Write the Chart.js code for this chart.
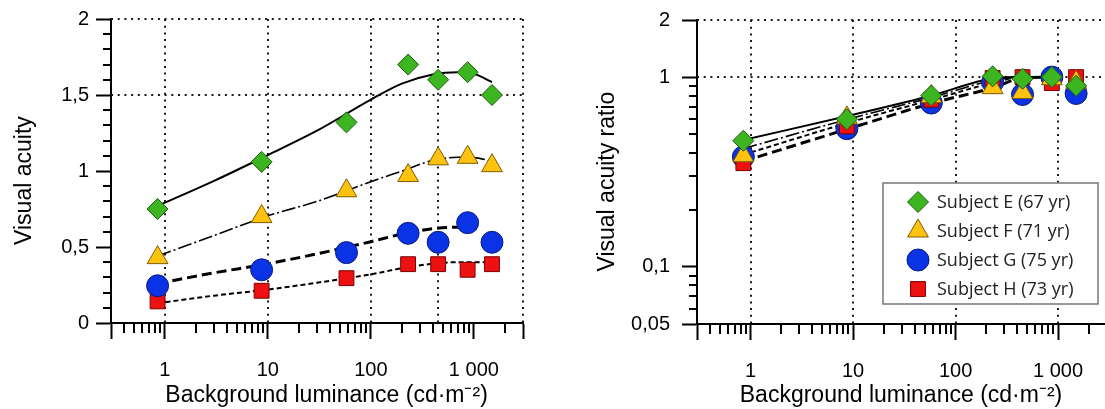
<!DOCTYPE html>
<html>
<head>
<meta charset="utf-8">
<script src="https://cdn.jsdelivr.net/npm/chart.js@4.4.1/dist/chart.umd.min.js"></script>
<style>
    html, body { margin: 0; padding: 0; background: #fff; }
    body { width: 1105px; height: 409px; position: relative; overflow: hidden; }
    .panel { position: absolute; top: 0; height: 409px; }
    #leftBox { left: 0; width: 560px; }
    #rightBox { left: 583px; width: 522px; }
</style>
</head>
<body>
<div class="panel" id="leftBox"><canvas id="acuityChart"></canvas></div>
<div class="panel" id="rightBox"><canvas id="ratioChart"></canvas></div>
<script>
// luminance of the measured points (cd/m2)
const luminance = [0.85, 8.7, 58, 230, 450, 870, 1500];

// visual acuity (left panel)
const acuityE = [0.75, 1.06, 1.32, 1.70, 1.60, 1.65, 1.50];
const acuityF = [0.43, 0.70, 0.87, 0.97, 1.08, 1.09, 1.035];
const acuityG = [0.245, 0.35, 0.463, 0.59, 0.531, 0.66, 0.531];
const acuityH = [0.142, 0.212, 0.295, 0.387, 0.387, 0.35, 0.387];

// fitted curves of the left panel
const fitLum = [0.85, 3, 10, 30, 100, 200, 400, 700, 1000, 1500];
const fitE = [0.77, 0.935, 1.105, 1.265, 1.47, 1.575, 1.635, 1.65, 1.64, 1.585];
const fitF = [0.44, 0.575, 0.705, 0.80, 0.93, 1.0, 1.07, 1.09, 1.088, 1.065];
const fitH = [0.13, 0.18, 0.22, 0.265, 0.32, 0.36, 0.39, 0.40, 0.40, 0.40];
const fitLumG = [0.85, 3, 10, 30, 100, 200, 400, 700, 1200];
const fitG = [0.26, 0.33, 0.39, 0.455, 0.535, 0.585, 0.62, 0.63, 0.62];

// acuity ratio (right panel)
const ratioE = [0.462, 0.60, 0.80, 1.01, 0.98, 1.0, 0.90];
const ratioF = [0.385, 0.61, 0.79, 0.88, 0.83, 0.98, 0.94];
const ratioG = [0.38, 0.535, 0.73, 0.94, 0.81, 1.0, 0.82];
const ratioH = [0.352, 0.55, 0.76, 0.99, 1.0, 0.93, 1.0];

// normalised curves of the right panel
const ratioLum = [0.85, 10, 60, 230, 450, 870];
const ratioFitE = [0.466, 0.634, 0.803, 0.984, 1.0, 1.0];
const ratioFitF = [0.42, 0.61, 0.784, 0.96, 1.0, 1.0];
const ratioFitG = [0.36, 0.544, 0.731, 0.878, 0.99, 1.0];
const ratioFitH = [0.39, 0.585, 0.762, 0.933, 1.0, 1.0];

// axes
const xTicks = [0.3, 1, 10, 100, 1000, 3000];
const xTickLabels = ['', '1', '10', '100', '1 000', ''];
const xMinor = [0.4, 0.5, 0.6, 0.7, 0.8, 0.9, 2, 3, 4, 5, 6, 7, 8, 9,
    20, 30, 40, 50, 60, 70, 80, 90, 200, 300, 400, 500, 600, 700, 800, 900, 2000];
const acuityTicks = [0, 0.5, 1, 1.5, 2];
const acuityTickLabels = ['0', '0,5', '1', '1,5', '2'];
const acuityMinor = [0.1, 0.2, 0.3, 0.4, 0.6, 0.7, 0.8, 0.9, 1.1, 1.2, 1.3, 1.4, 1.6, 1.7, 1.8, 1.9];
const ratioTicks = [0.05, 0.1, 1, 2];
const ratioTickLabels = ['0,05', '0,1', '1', '2'];
const ratioMinor = [0.06, 0.07, 0.08, 0.09, 0.2, 0.3, 0.4, 0.5, 0.6, 0.7, 0.8, 0.9];

const subjectLabels = ['Subject E (67 yr)', 'Subject F (71 yr)', 'Subject G (75 yr)', 'Subject H (73 yr)'];

const FONT = "'Liberation Sans', Arial, sans-serif";
Chart.defaults.font.family = FONT;
Chart.defaults.color = '#000';

const markers = [
    { pointStyle: 'rectRot', radius: 10.5, fill: '#3cb521', stroke: '#1d5a10' },
    { pointStyle: 'triangle', radius: 12, fill: '#ffc20e', stroke: '#7d5d00' },
    { pointStyle: 'circle', radius: 11, fill: '#0b33e6', stroke: '#0a1d78' },
    { pointStyle: 'rect', radius: 10.5, fill: '#ee1111', stroke: '#780000' }
];
const lineStyles = [
    { width: 2, dash: [] },
    { width: 1.6, dash: [14, 3, 2, 3] },
    { width: 3, dash: [10, 5] },
    { width: 2, dash: [5, 3] }
];

function pts(xs, ys) {
    return xs.map((x, i) => ({ x: x, y: ys[i] }));
}

function markerSet(label, xs, ys, k, order) {
    const m = markers[k];
    return {
        label: label,
        data: pts(xs, ys),
        pointStyle: m.pointStyle,
        pointRadius: m.radius,
        backgroundColor: m.fill,
        borderColor: m.stroke,
        borderWidth: 1,
        showLine: false,
        clip: false,
        order: order
    };
}

function curveSet(xs, ys, k, order) {
    const s = lineStyles[k];
    return {
        data: pts(xs, ys),
        showLine: true,
        pointRadius: 0,
        borderColor: '#000',
        borderWidth: s.width,
        borderDash: s.dash,
        cubicInterpolationMode: 'monotone',
        fill: false,
        order: order
    };
}

// dotted grid lines and the minor tick marks
function decorPlugin(cfg) {
    return {
        id: 'decor',
        beforeDatasetsDraw(chart) {
            const { ctx, chartArea: a, scales: { x, y } } = chart;
            ctx.save();
            ctx.strokeStyle = '#1a1a1a';
            ctx.lineWidth = 2;
            ctx.setLineDash([2, 4.7]);
            cfg.vGrid.forEach(v => {
                const px = Math.round(x.getPixelForValue(v));
                ctx.beginPath();
                ctx.moveTo(px, a.top);
                ctx.lineTo(px, a.bottom);
                ctx.stroke();
            });
            cfg.hGrid.forEach(v => {
                const py = Math.round(y.getPixelForValue(v));
                ctx.beginPath();
                ctx.moveTo(a.left, py);
                ctx.lineTo(a.right, py);
                ctx.stroke();
            });
            ctx.restore();
        },
        afterDraw(chart) {
            const { ctx, chartArea: a, scales: { x, y } } = chart;
            ctx.save();
            ctx.strokeStyle = '#000';
            ctx.lineWidth = 2;
            ctx.beginPath();
            cfg.xMinor.forEach(v => {
                const px = Math.round(x.getPixelForValue(v));
                if (px > a.right + 1) return;
                ctx.moveTo(px, a.bottom);
                ctx.lineTo(px, a.bottom + 10);
            });
            cfg.yMinor.forEach(v => {
                const py = Math.round(y.getPixelForValue(v));
                ctx.moveTo(a.left, py);
                ctx.lineTo(a.left - 8, py);
            });
            ctx.stroke();
            ctx.restore();
        }
    };
}

// legend box drawn inside the right panel
const legendPlugin = {
    id: 'subjectLegend',
    afterDraw(chart) {
        const { ctx, chartArea: a } = chart;
        const left = a.right - 222, top = 183, w = 215, h = 121;
        ctx.save();
        ctx.fillStyle = '#fff';
        ctx.fillRect(left, top, w, h);
        ctx.strokeStyle = '#777';
        ctx.lineWidth = 1.5;
        ctx.strokeRect(left, top, w, h);
        subjectLabels.forEach((label, i) => {
            const m = markers[i];
            const cy = top + 19 + i * 29;
            ctx.fillStyle = m.fill;
            ctx.strokeStyle = m.stroke;
            ctx.lineWidth = 1;
            Chart.helpers.drawPoint(ctx, { pointStyle: m.pointStyle, radius: m.radius, rotation: 0, borderWidth: 1 }, left + 35, cy);
            ctx.fillStyle = '#222';
            ctx.font = "18px 'Open Sans', sans-serif";
            ctx.textAlign = 'left';
            ctx.textBaseline = 'middle';
            ctx.fillText(label, left + 54, cy + 1);
        });
        ctx.restore();
    }
};

function xAxis(max, height, titleText) {
    return {
        type: 'logarithmic',
        min: 0.3,
        max: max,
        afterBuildTicks: s => { s.ticks = xTicks.filter(v => v <= max).map(v => ({ value: v })); },
        afterFit: s => {
            s.height = height;
            s.paddingLeft = 0;
            s.paddingRight = 0;
        },
        ticks: {
            callback: v => xTickLabels[xTicks.indexOf(v)],
            autoSkip: false,
            maxRotation: 0,
            padding: 19,
            color: '#000',
            font: { size: 20 }
        },
        grid: { drawOnChartArea: false, drawTicks: true, tickLength: 16, tickWidth: 2, tickColor: '#000' },
        border: { color: '#000', width: 2 },
        title: { display: true, text: titleText, color: '#000', font: { size: 23 }, padding: { top: 0, bottom: 0 } }
    };
}

function yAxis(opts) {
    return {
        type: opts.type,
        min: opts.min,
        max: opts.max,
        afterBuildTicks: s => { s.ticks = opts.ticks.map(v => ({ value: v })); },
        afterFit: s => {
            s.width = opts.width;
            s.paddingTop = 0;
            s.paddingBottom = 0;
        },
        ticks: {
            callback: v => opts.labels[opts.ticks.indexOf(v)],
            autoSkip: false,
            padding: opts.pad,
            color: '#000',
            font: { size: 20 }
        },
        grid: { drawOnChartArea: false, drawTicks: true, tickLength: 15, tickWidth: 2, tickColor: '#000' },
        border: { color: '#000', width: 2 },
        title: { display: true, text: opts.title, color: '#000', font: { size: 23 }, padding: { top: 11, bottom: 0 } }
    };
}

const baseOptions = {
    responsive: true,
    maintainAspectRatio: false,
    animation: false,
    events: [],
    plugins: { legend: { display: false }, tooltip: { enabled: false }, title: { display: false } }
};

// left panel: visual acuity
new Chart(document.getElementById('acuityChart').getContext('2d'), {
    type: 'scatter',
    data: {
        datasets: [
            markerSet(subjectLabels[0], luminance, acuityE, 0, 0),
            markerSet(subjectLabels[1], luminance, acuityF, 1, 1),
            markerSet(subjectLabels[2], luminance, acuityG, 2, 2),
            markerSet(subjectLabels[3], luminance, acuityH, 3, 3),
            curveSet(fitLum, fitE, 0, 10),
            curveSet(fitLum, fitF, 1, 11),
            curveSet(fitLumG, fitG, 2, 12),
            curveSet(fitLum, fitH, 3, 13)
        ]
    },
    options: Object.assign({}, baseOptions, {
        layout: { autoPadding: false, padding: { left: 0, right: 37, top: 19, bottom: 0 } },
        scales: {
            x: xAxis(3000, 86, '   Background luminance (cd·m⁻²)'),
            y: yAxis({ type: 'linear', min: 0, max: 2, ticks: acuityTicks, labels: acuityTickLabels,
                width: 111, pad: 7, title: 'Visual acuity   ' })
        }
    }),
    plugins: [decorPlugin({ vGrid: [1, 10, 100, 450, 3000], hGrid: [1.5, 2], xMinor: xMinor, yMinor: acuityMinor })]
});

// right panel: visual acuity ratio
new Chart(document.getElementById('ratioChart').getContext('2d'), {
    type: 'scatter',
    data: {
        datasets: [
            markerSet(subjectLabels[0], luminance, ratioE, 0, 0),
            markerSet(subjectLabels[1], luminance, ratioF, 1, 1),
            markerSet(subjectLabels[3], luminance, ratioH, 3, 2),
            markerSet(subjectLabels[2], luminance, ratioG, 2, 3),
            curveSet(ratioLum, ratioFitE, 0, 10),
            curveSet(ratioLum, ratioFitF, 1, 11),
            curveSet(ratioLum, ratioFitG, 2, 12),
            curveSet(ratioLum, ratioFitH, 3, 13)
        ]
    },
    options: Object.assign({}, baseOptions, {
        layout: { autoPadding: false, padding: { left: 0, right: 0, top: 20, bottom: 0 } },
        scales: {
            x: xAxis(2870, 85, 'Background luminance (cd·m⁻²)'),
            y: yAxis({ type: 'logarithmic', min: 0.05, max: 2, ticks: ratioTicks, labels: ratioTickLabels,
                width: 114, pad: 12, title: 'Visual acuity ratio   ' })
        }
    }),
    plugins: [decorPlugin({ vGrid: [1, 10, 100, 1000], hGrid: [1, 2], xMinor: xMinor, yMinor: ratioMinor }), legendPlugin]
});
</script>
</body>
</html>
